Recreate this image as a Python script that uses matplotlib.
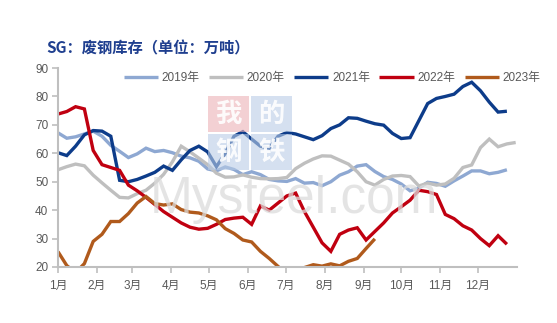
import matplotlib
matplotlib.use("Agg")
import matplotlib.pyplot as plt
from matplotlib.patches import Rectangle

plt.rcParams['font.family'] = ['Liberation Sans', 'Noto Sans CJK SC', 'DejaVu Sans']

# Weekly SG scrap-steel inventory (10k tonnes)
inv_2019 = [67.2, 65.3, 65.8, 66.8, 67.8, 66.0, 62.8, 60.7, 58.5, 59.8, 61.8, 60.6, 61.0,
            60.2, 59.0, 58.4, 57.2, 54.5, 53.8, 55.2, 54.3, 52.5, 53.5, 52.5, 50.8, 50.3,
            50.1, 51.1, 49.5, 49.7, 48.6, 50.0, 52.3, 53.5, 55.5, 56.0, 53.6, 51.8, 50.8,
            49.2, 46.8, 47.8, 49.8, 49.4, 48.4, 50.3, 52.0, 53.8, 53.8, 52.8, 53.3, 54.2]
inv_2020 = [54.2, 55.3, 56.2, 55.6, 52.3, 49.6, 47.0, 44.5, 44.3, 45.8, 47.0, 49.5, 52.6,
            57.0, 62.5, 60.5, 58.3, 56.0, 53.0, 51.6, 51.7, 52.4, 51.6, 51.1, 51.0, 51.1,
            51.5, 54.6, 56.5, 58.0, 59.1, 59.0, 57.6, 56.2, 53.5, 50.0, 48.8, 50.8, 52.0,
            52.2, 51.8, 48.5, 49.5, 48.8, 49.2, 51.2, 55.0, 55.9, 62.0, 65.0, 62.3, 63.3, 63.8]
inv_2021 = [60.2, 59.2, 62.5, 66.5, 68.0, 67.8, 66.0, 50.5, 50.0, 50.8, 52.0, 53.3, 55.5,
            54.0, 57.7, 61.0, 62.5, 60.5, 55.3, 60.0, 66.0, 67.6, 65.0, 62.5, 61.8, 66.0,
            67.3, 66.8, 65.8, 64.8, 66.2, 68.7, 70.0, 72.5, 72.3, 71.3, 70.4, 69.9, 67.0,
            65.2, 65.5, 71.5, 77.5, 79.3, 80.0, 80.8, 83.5, 85.0, 82.0, 78.0, 74.5, 74.8]
inv_2022 = [73.8, 74.7, 76.4, 75.6, 61.0, 56.0, 55.0, 54.0, 48.8, 46.8, 44.5, 42.0, 39.5,
            37.5, 35.5, 34.0, 33.3, 33.6, 35.0, 36.7, 37.2, 37.5, 35.0, 41.5, 40.0, 42.5,
            45.0, 46.0, 39.5, 34.0, 28.5, 25.5, 31.5, 33.0, 33.8, 29.5, 32.5, 35.5, 39.0,
            41.2, 43.5, 47.0, 46.5, 45.5, 38.5, 37.0, 34.5, 33.0, 30.0, 27.5, 31.0, 28.0]
inv_2023 = [25.4, 20.5, 18.0, 21.2, 29.0, 31.5, 36.0, 36.0, 38.8, 42.5, 44.8, 42.3, 41.8,
            42.2, 40.2, 39.3, 39.0, 38.0, 36.6, 33.5, 31.8, 29.5, 28.8, 25.5, 23.0, 20.2,
            17.5, 17.8, 19.8, 20.8, 20.3, 21.1, 20.4, 22.0, 23.0, 26.5, 29.9]

series = [("2019年", inv_2019, "#8EA8D2"),
          ("2020年", inv_2020, "#BFBFBF"),
          ("2021年", inv_2021, "#0D3C8A"),
          ("2022年", inv_2022, "#C00010"),
          ("2023年", inv_2023, "#B05A1C")]

month_labels = ["1月", "2月", "3月", "4月", "5月", "6月", "7月", "8月", "9月", "10月", "11月", "12月"]
month_start_days = [0, 31, 59, 90, 120, 151, 181, 212, 243, 273, 304, 334]
y_ticks = [20, 30, 40, 50, 60, 70, 80, 90]

fig = plt.figure(figsize=(5.57, 3.23), dpi=100)
ax = fig.add_axes([0.1041, 0.1734, 0.8240, 0.6160])

# faint site watermark behind the data
wm_boxes = [(208, 96, "#EBB2B7", "我"), (251, 96, "#B9CCE6", "的"),
            (208, 134, "#B9CCE6", "钢"), (251, 134, "#B9CCE6", "铁")]
for bx, by, bc, ch in wm_boxes:
    x0, y0 = bx / 557, 1 - (by + 36) / 323
    fig.patches.append(Rectangle((x0, y0), 41 / 557, 36 / 323, transform=fig.transFigure,
                                 facecolor=bc, edgecolor="none", alpha=0.6, zorder=0))
    fig.text(x0 + 20.5 / 557, y0 + 18 / 323, ch, ha="center", va="center", fontsize=19,
             color="white", alpha=0.9, fontweight="bold", family=["Noto Sans CJK SC"], zorder=1)
fig.text(150 / 557, 1 - 199 / 323, "Mysteel.com", ha="left", va="center", fontsize=37,
         color="#DCDCDC", alpha=0.75, zorder=1)
ax.patch.set_alpha(0)

for label, vals, color in series:
    days = [7 * i for i in range(len(vals))]
    ax.plot(days, vals, color=color, lw=2.4, label=label, solid_joinstyle="miter",
            solid_capstyle="butt")

ax.set_xlim(0, 365)
ax.set_ylim(20, 90)
ax.set_xticks(month_start_days)
ax.set_xticklabels(month_labels)
ax.set_yticks(y_ticks)

for side in ("top", "right"):
    ax.spines[side].set_visible(False)
for side in ("left", "bottom"):
    ax.spines[side].set_color("#BFBFBF")
    ax.spines[side].set_linewidth(1.5)
ax.tick_params(axis="both", colors="#BFBFBF", length=4, width=1.2, direction="out",
               labelcolor="#595959", labelsize=8.5, pad=3)
ax.tick_params(axis="x", pad=5)

fig.legend(loc="center", bbox_to_anchor=(332 / 557, 1 - 78 / 323), ncol=5, frameon=False,
           fontsize=8.5, handlelength=2.9, handletextpad=0.3, columnspacing=0.8,
           labelcolor="#595959")

fig.text(46 / 557, 1 - 48 / 323, "SG：废钢库存（单位：万吨）", ha="left", va="center",
         fontsize=11, fontweight="bold", color="#1F3F8F",
         family=["Noto Sans CJK SC", "DejaVu Sans"])

fig.savefig("out.png", dpi=100)
